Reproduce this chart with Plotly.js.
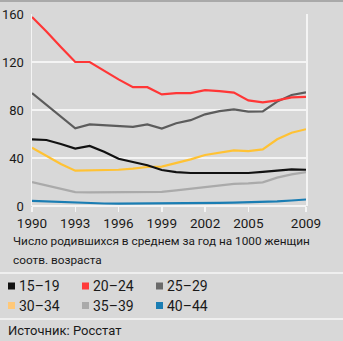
<!DOCTYPE html>
<html>
<head>
<meta charset="utf-8">
<script src="https://cdn.plot.ly/plotly-3.0.1.min.js"></script>
<style>
html,body{margin:0;padding:0;background:#d8d8d8;}
#chart{width:343px;height:341px;}
</style>
</head>
<body>
<div id="chart"></div>
<script>
const years = [1990,1991,1992,1993,1994,1995,1996,1997,1998,1999,2000,2001,2002,2003,2004,2005,2006,2007,2008,2009];
const tickYears = [1990,1993,1996,1999,2002,2005,2009];
const groups = ["15–19","20–24","25–29","30–34","35–39","40–44"];
const colors = ["#111111","#ff3636","#5c5c5c","#ffc234","#aaaaaa","#1a7db3"];
const legendColors = ["#111111","#ff3a3a","#6a6a6a","#ffc878","#aaaaaa","#1a7db3"];
const v15_19 = [55.6,55.0,51.7,47.8,50.0,45.3,39.4,36.7,34.0,30.0,28.3,27.5,27.5,28.0,28.0,27.5,28.5,29.2,30.5,30.2];
const v20_24 = [157.5,145.5,132.5,120.0,120.0,112.5,105.5,99.0,99.0,93.0,94.0,94.0,96.5,95.8,94.5,88.0,86.4,88.0,90.5,91.0];
const v25_29 = [94.0,84.0,74.0,64.7,68.0,67.5,66.5,66.0,68.0,64.5,69.0,71.5,76.4,79.0,80.5,78.6,78.8,87.0,92.5,94.7];
const v30_34 = [48.6,41.5,35.0,29.4,29.5,29.7,30.2,31.2,32.5,32.8,35.8,38.9,42.5,44.7,46.4,45.8,47.2,55.6,61.0,64.0];
const v35_39 = [20.0,17.2,14.5,11.6,11.4,11.4,11.5,11.8,12.0,11.8,13.0,14.5,15.5,17.0,18.5,18.9,19.7,23.6,26.4,28.3];
const v40_44 = [4.3,3.8,3.3,2.6,2.3,2.1,2.0,2.0,2.0,2.0,2.1,2.2,2.4,2.6,2.8,3.0,3.1,3.8,4.6,5.4];
const series = [v15_19, v20_24, v25_29, v30_34, v35_39, v40_44];
const caption1 = "Число родившихся в среднем за год на 1000 женщин";
const caption2 = "соотв. возраста";
const source = "Источник: Росстат";

const FONT = "Roboto, 'Liberation Sans', sans-serif";

// plot area: left 32, right 306, top 14, bottom 206
const L = 32, R = 306, T = 14, B = 206;
const W = R - L, H = B - T;
const px = x => (x - L) / W;
const py = y => (B - y) / H;

const order = [5,4,3,2,0,1];
const traces = order.map(i => ({
  x: years, y: series[i], type: 'scatter', mode: 'lines',
  name: groups[i], line: {color: colors[i], width: 2.2}, showlegend: false,
  cliponaxis: false
}));

const shapes = [
  {type:'line', xref:'paper', yref:'paper', x0:px(0), x1:px(343), y0:py(1), y1:py(1), line:{color:'#a9a9a9', width:2}},
  {type:'line', xref:'paper', yref:'paper', x0:px(0), x1:px(343), y0:py(273), y1:py(273), line:{color:'#efefef', width:2}},
  {type:'line', xref:'paper', yref:'paper', x0:px(0), x1:px(343), y0:py(319), y1:py(319), line:{color:'#efefef', width:2}}
];
const annotations = [
  {xref:'paper', yref:'paper', x:px(11), y:py(241), xanchor:'left', yanchor:'middle', text:caption1, showarrow:false, font:{family:FONT, size:11.8, color:'#1a1a1a'}},
  {xref:'paper', yref:'paper', x:px(11), y:py(260), xanchor:'left', yanchor:'middle', text:caption2, showarrow:false, font:{family:FONT, size:11.8, color:'#1a1a1a'}},
  {xref:'paper', yref:'paper', x:px(6), y:py(330), xanchor:'left', yanchor:'middle', text:source, showarrow:false, font:{family:FONT, size:13, color:'#1a1a1a'}}
];
groups.forEach((g, i) => {
  const col = i % 3, row = Math.floor(i / 3);
  const x0 = 8 + col * 74, yc = 286 + row * 19.5;
  shapes.push({type:'rect', xref:'paper', yref:'paper', x0:px(x0), x1:px(x0+7), y0:py(yc-3.5), y1:py(yc+3.5), fillcolor:legendColors[i], line:{width:0}});
  annotations.push({xref:'paper', yref:'paper', x:px(x0+9), y:py(yc), xanchor:'left', yanchor:'middle', text:g, showarrow:false, font:{family:FONT, size:14, color:'#1a1a1a'}});
});

const layout = {
  width: 343, height: 341,
  margin: {l: L, r: 343 - R, t: T, b: 341 - B, pad: 0},
  paper_bgcolor: '#d8d8d8', plot_bgcolor: '#d8d8d8',
  showlegend: false,
  xaxis: {
    range: [1990, 2009], tickvals: tickYears, ticktext: tickYears.map(String),
    showgrid: false, zeroline: false, showline: false,
    ticks: 'outside', ticklen: 5, tickwidth: 1.5, tickcolor: '#f4f4f4',
    tickfont: {family: FONT, size: 13.5, color: '#1a1a1a'}
  },
  yaxis: {
    range: [0, 160], tickvals: [0,40,80,120,160],
    showgrid: true, gridcolor: '#f4f4f4', gridwidth: 1.5,
    zeroline: true, zerolinecolor: '#f4f4f4', zerolinewidth: 1.5,
    showline: true, mirror: true, linecolor: '#f4f4f4', linewidth: 1.5,
    ticks: '', ticklabelstandoff: 4,
    tickfont: {family: FONT, size: 13, color: '#1a1a1a'}
  },
  shapes: shapes, annotations: annotations
};
Plotly.newPlot('chart', traces, layout, {staticPlot: true, displayModeBar: false});
</script>
</body>
</html>
